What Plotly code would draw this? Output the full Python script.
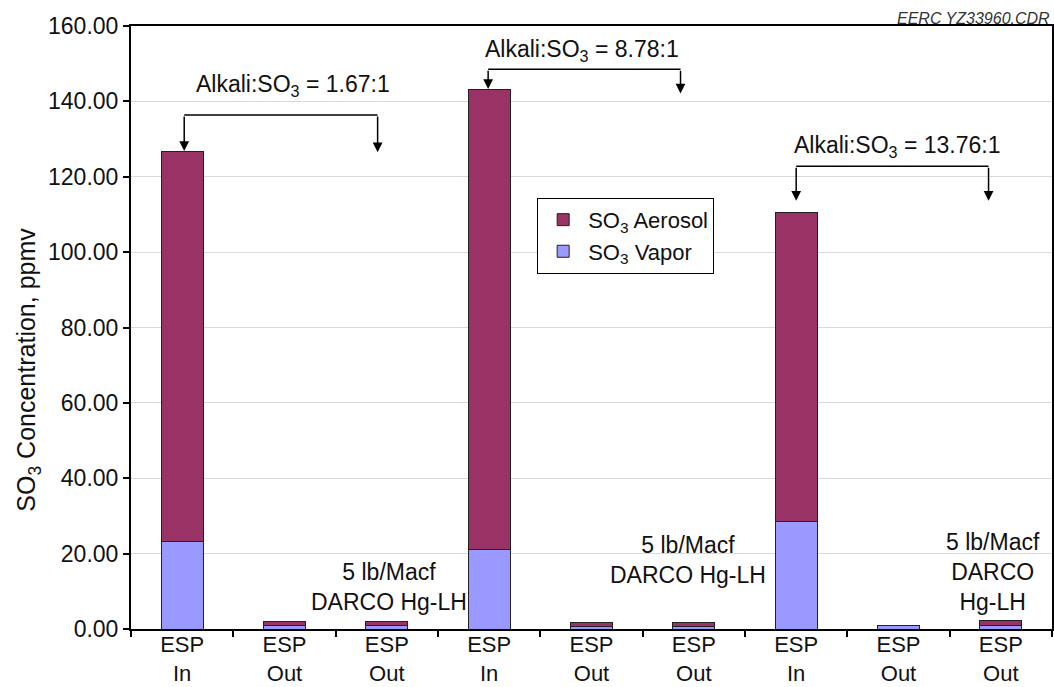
import plotly.graph_objects as go

# ---- data ----
categories = ["ESP<br>In", "ESP<br>Out", "ESP<br>Out",
              "ESP<br>In", "ESP<br>Out", "ESP<br>Out",
              "ESP<br>In", "ESP<br>Out", "ESP<br>Out"]
positions = list(range(len(categories)))
so3_vapor = [23.1, 0.8, 0.8, 21.2, 0.7, 0.7, 28.4, 0.8, 1.0]
so3_aerosol = [103.7, 1.1, 1.1, 122.0, 1.1, 1.0, 82.2, 0.1, 1.2]
y_ticks = [0, 20, 40, 60, 80, 100, 120, 140, 160]

ratio_labels = ["Alkali:SO<sub>3</sub> = 1.67:1",
                "Alkali:SO<sub>3</sub> = 8.78:1",
                "Alkali:SO<sub>3</sub> = 13.76:1"]
ratio_text_x = [1.08, 3.91, 6.99]
ratio_text_y = [144.3, 153.6, 128.0]
bracket_x0 = [0.02, 2.99, 6.0]
bracket_x1 = [1.91, 4.87, 7.88]
bracket_y = [136.4, 148.5, 122.8]
tip_y0 = [126.8, 143.3, 113.6]
tip_y1 = [126.5, 142.1, 113.6]

darco_labels = ["5 lb/Macf<br>DARCO Hg-LH", "5 lb/Macf<br>DARCO Hg-LH",
                "5 lb/Macf<br>DARCO<br>Hg-LH"]
darco_x = [2.02, 4.94, 7.92]
darco_y = [11.1, 18.3, 15.1]

FONT = "Liberation Sans, Arial, sans-serif"

fig = go.Figure()
fig.add_trace(go.Bar(x=positions, y=so3_vapor, name="SO<sub>3</sub> Vapor",
                     marker=dict(color="#9999FF", line=dict(color="#222222", width=1))))
fig.add_trace(go.Bar(x=positions, y=so3_aerosol, name="SO<sub>3</sub> Aerosol",
                     marker=dict(color="#993366", line=dict(color="#222222", width=1))))

annotations = []
shapes = []
for i in range(3):
    annotations.append(dict(x=ratio_text_x[i], y=ratio_text_y[i], xref="x", yref="y",
                            text=ratio_labels[i], showarrow=False,
                            font=dict(size=23, color="#111111", family=FONT)))
    shapes.append(dict(type="line", xref="x", yref="y",
                       x0=bracket_x0[i], x1=bracket_x1[i], y0=bracket_y[i], y1=bracket_y[i],
                       line=dict(color="black", width=1.5)))
    for xx, ty in ((bracket_x0[i], tip_y0[i]), (bracket_x1[i], tip_y1[i])):
        annotations.append(dict(x=xx, y=ty, ax=xx, ay=bracket_y[i], xref="x", yref="y",
                                axref="x", ayref="y", text="", showarrow=True,
                                arrowhead=2, arrowsize=1.3, arrowwidth=1.5,
                                arrowcolor="black"))
    annotations.append(dict(x=darco_x[i], y=darco_y[i], xref="x", yref="y",
                            text=darco_labels[i], showarrow=False,
                            font=dict(size=23, color="#111111", family=FONT)))

annotations.append(dict(x=1, y=1, xref="paper", yref="paper", xanchor="right",
                        yanchor="bottom", text="<i>EERC YZ33960.CDR</i>", showarrow=False,
                        font=dict(size=16, color="#333333", family=FONT), yshift=-3))

# y-axis title placed as rotated text
annotations.append(dict(x=0, y=0.43, xref="paper", yref="paper", xanchor="center",
                        yanchor="middle", xshift=-103, textangle=-90, showarrow=False,
                        text="SO<sub>3</sub> Concentration, ppmv",
                        font=dict(size=25, family=FONT, color="#111111")))

fig.update_layout(
    width=1054, height=687,
    margin=dict(l=131, r=2, t=26, b=58, autoexpand=False),
    paper_bgcolor="white", plot_bgcolor="white",
    barmode="stack", bargap=0.59,
    font=dict(family=FONT, color="#111111"),
    showlegend=True,
    legend=dict(x=0.441, y=0.715, xanchor="left", yanchor="top",
                traceorder="reversed", bgcolor="white",
                bordercolor="black", borderwidth=1, itemwidth=40,
                font=dict(size=22, family=FONT, color="#111111")),
    annotations=annotations, shapes=shapes,
)
fig.update_xaxes(range=[-0.5, 8.5], tickmode="array", tickvals=positions,
                 ticktext=categories, ticks="", showline=True, linecolor="black",
                 linewidth=2, mirror=True, showgrid=False, zeroline=False,
                 automargin=False, ticklabelstandoff=-5,
                 tickfont=dict(size=22, family=FONT, color="#111111"),
                 minor=dict(ticks="outside", tick0=-0.5, dtick=1, ticklen=6,
                            tickcolor="black", tickwidth=1.5, showgrid=False))
fig.update_yaxes(range=[0, 160], tickmode="array", tickvals=y_ticks,
                 tickformat=".2f", ticks="outside", ticklen=6, tickcolor="black",
                 tickwidth=1.5, showline=True, linecolor="black", linewidth=2,
                 mirror=True, showgrid=True, gridcolor="#d9d9d9", zeroline=False,
                 automargin=False,
                 tickfont=dict(size=23, family=FONT, color="#111111"))

fig.write_html("out.html")
